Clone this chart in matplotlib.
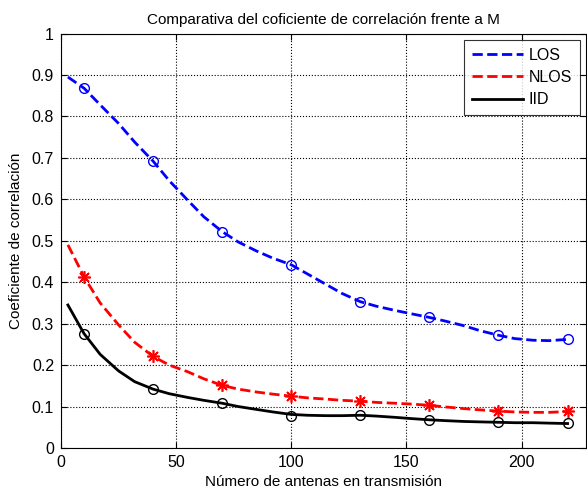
import matplotlib.pyplot as plt

plt.rcParams['font.family'] = ['Liberation Sans', 'DejaVu Sans']

# marker positions (number of antennas)
m_x = [10, 40, 70, 100, 130, 160, 190, 220]
los_pts = [0.868, 0.692, 0.522, 0.442, 0.353, 0.315, 0.272, 0.262]
nlos_pts = [0.413, 0.221, 0.151, 0.125, 0.113, 0.103, 0.089, 0.089]
iid_pts = [0.276, 0.142, 0.108, 0.077, 0.079, 0.068, 0.062, 0.060]

# fitted curves
c_x = [3, 10, 17, 25, 32, 40, 47, 55, 62, 70, 77, 85, 92, 100, 107, 115, 122, 130,
       137, 145, 152, 160, 167, 175, 182, 190, 197, 205, 212, 220]
los_curve = [0.895, 0.868, 0.828, 0.783, 0.738, 0.692, 0.645, 0.598, 0.558, 0.522,
             0.497, 0.475, 0.458, 0.442, 0.420, 0.395, 0.373, 0.353, 0.342, 0.332,
             0.324, 0.315, 0.306, 0.295, 0.283, 0.272, 0.264, 0.260, 0.259, 0.262]
nlos_curve = [0.490, 0.413, 0.350, 0.297, 0.255, 0.221, 0.200, 0.184, 0.167, 0.151,
              0.142, 0.135, 0.130, 0.125, 0.121, 0.118, 0.115, 0.113, 0.110, 0.108,
              0.106, 0.103, 0.099, 0.095, 0.092, 0.089, 0.087, 0.086, 0.086, 0.088]
iid_curve = [0.345, 0.276, 0.226, 0.186, 0.160, 0.142, 0.131, 0.122, 0.115, 0.108,
             0.100, 0.093, 0.087, 0.081, 0.079, 0.078, 0.078, 0.079, 0.077, 0.074,
             0.071, 0.068, 0.066, 0.064, 0.063, 0.062, 0.061, 0.061, 0.060, 0.059]

fig = plt.figure(figsize=(5.87, 4.95), dpi=100)
ax = fig.add_axes([61 / 587, 47 / 495, 525 / 587, 414.5 / 495])

ax.plot(c_x, los_curve, '--', color='#0000ff', lw=2, label='LOS')
ax.plot(c_x, nlos_curve, '--', color='#ff0000', lw=2, label='NLOS')
ax.plot(c_x, iid_curve, '-', color='black', lw=2, label='IID')
ax.plot(m_x, los_pts, 'o', mfc='none', mec='#0000ff', ms=7, mew=1)
ax.plot(m_x, nlos_pts, marker=(8, 2, 0), ls='none', color='#ff0000', ms=9, mew=1.2)
ax.plot(m_x, iid_pts, 'o', mfc='none', mec='black', ms=7, mew=1)

ax.set_xlim(0, 228)
ax.set_ylim(0, 1)
ax.set_xticks([0, 50, 100, 150, 200])
ax.set_yticks([i / 10 for i in range(11)])
ax.set_yticklabels(['0', '0.1', '0.2', '0.3', '0.4', '0.5', '0.6', '0.7', '0.8', '0.9', '1'])
ax.tick_params(direction='in', top=True, right=True, labelsize=11.5, length=4, pad=5)
ax.grid(True, linestyle=':', color='black', lw=0.8)

ax.set_title('Comparativa del coficiente de correlación frente a M', fontsize=11, pad=7)
ax.set_xlabel('Número de antenas en transmisión', fontsize=11, labelpad=4)
ax.set_ylabel('Coeficiente de correlación', fontsize=11, labelpad=6)

leg = ax.legend(loc='upper right', fancybox=False, edgecolor='black', fontsize=11.5,
                handlelength=3.2, borderaxespad=0.4, handletextpad=0.3,
                labelspacing=0.45, borderpad=0.5)
leg.get_frame().set_linewidth(0.8)

fig.savefig('out.png', dpi=100)
